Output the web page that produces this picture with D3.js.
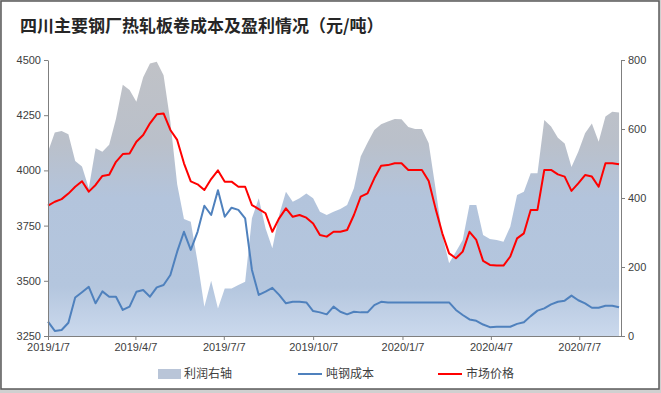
<!DOCTYPE html>
<html><head><meta charset="utf-8">
<script src="https://cdn.jsdelivr.net/npm/d3@7/dist/d3.min.js"></script>
<style>body{margin:0;background:#fff}</style>
</head><body><svg id="c" width="661" height="393"></svg>
<script>
const title = "四川主要钢厂热轧板卷成本及盈利情况（元/吨）";
const seriesNames = ["利润右轴", "吨钢成本", "市场价格"];
const startDate = "2019-01-07";
const weekCount = 85;
const price = [3840,3858,3870,3895,3926,3951,3904,3934,3975,3980,4039,4074,4077,4130,4160,4213,4254,4258,4183,4138,
  4032,3950,3937,3911,3961,4000,3949,3949,3926,3926,3843,3825,3806,3722,3783,3828,3790,3798,3786,3760,
  3707,3700,3722,3722,3730,3798,3881,3896,3964,4021,4024,4032,4032,4002,4002,4002,3952,3828,3715,3624,
  3602,3632,3722,3685,3590,3572,3569,3569,3610,3692,3715,3821,3821,4002,4002,3982,3972,3907,3941,3979,
  3972,3926,4032,4032,4028];
const cost = [3315,3273,3277,3310,3424,3448,3473,3398,3452,3428,3428,3368,3383,3450,3458,3428,3470,3481,3526,3632,
  3722,3640,3722,3840,3798,3910,3790,3831,3821,3783,3549,3436,3451,3468,3436,3398,3405,3405,3402,3363,
  3357,3348,3383,3360,3348,3360,3357,3357,3390,3405,3402,3402,3402,3402,3402,3402,3402,3402,3402,3402,
  3368,3345,3325,3319,3302,3290,3292,3292,3292,3305,3312,3340,3365,3375,3393,3405,3410,3433,3412,3398,
  3378,3378,3387,3387,3380];
const profit = [534,590,594,585,507,491,428,544,534,554,630,728,713,679,750,790,795,756,621,440,
  339,331,215,85,160,80,138,138,148,157,341,399,312,254,351,418,389,399,413,399,
  360,351,360,368,380,428,520,560,597,614,622,629,628,606,600,600,559,428,293,211,
  244,278,380,380,293,281,278,273,317,409,418,472,472,626,607,575,558,490,534,588,
  616,563,636,650,648];
const xTickDates = ["2019-01-07","2019-04-07","2019-07-07","2019-10-07","2020-01-07","2020-04-07","2020-07-07"];
const xDomain = ["2019-01-07","2020-08-19"];
const leftTicks = [3250,3500,3750,4000,4250,4500];
const rightTicks = [0,200,400,600,800];

const parse = d3.utcParse("%Y-%m-%d");
const fmt = d3.utcFormat("%Y/%-m/%-d");
const dates = d3.range(weekCount).map(i => d3.utcDay.offset(parse(startDate), 7 * i));
const rows = dates.map((d, i) => ({d, price: price[i], cost: cost[i], profit: profit[i]}));

const svg = d3.select("#c");
const L = 48, R = 621, T = 60, B = 336;
const x = d3.scaleUtc().domain(xDomain.map(parse)).range([L, R]);
const yL = d3.scaleLinear().domain([3250, 4500]).range([B, T]);
const yR = d3.scaleLinear().domain([0, 800]).range([B, T]);

// frame
svg.append("rect").attr("x", 0).attr("y", 0).attr("width", 661).attr("height", 393).attr("fill", "#d0d0d0");
svg.append("rect").attr("x", 1).attr("y", 1).attr("width", 658).attr("height", 388)
  .attr("fill", "#fff").attr("stroke", "#5a5a5a").attr("stroke-width", 1.5);

// title
svg.append("text").attr("x", 20).attr("y", 32).text(title)
  .attr("font-family", "'Noto Sans CJK SC', sans-serif").attr("font-size", 17).attr("font-weight", "bold").attr("fill", "#262626");

// gradient
const defs = svg.append("defs");
const g = defs.append("linearGradient").attr("id", "pg").attr("gradientUnits", "userSpaceOnUse")
  .attr("x1", 0).attr("x2", 0).attr("y1", T).attr("y2", B);
[[0, "#c0c2c7"], [0.3, "#bac0ca"], [0.5, "#b3c4dc"], [0.82, "#b4c6de"], [1, "#cbd9ed"]]
  .forEach(([o, c]) => g.append("stop").attr("offset", o).attr("stop-color", c));

// area
svg.append("path").datum(rows)
  .attr("d", d3.area().x(d => x(d.d)).y0(yR(0)).y1(d => yR(d.profit)))
  .attr("fill", "url(#pg)");

// lines
svg.append("path").datum(rows)
  .attr("d", d3.line().x(d => x(d.d)).y(d => yL(d.cost)))
  .attr("fill", "none").attr("stroke", "#4f81bd").attr("stroke-width", 2).attr("stroke-linejoin", "round");
svg.append("path").datum(rows)
  .attr("d", d3.line().x(d => x(d.d)).y(d => yL(d.price)))
  .attr("fill", "none").attr("stroke", "#ff0000").attr("stroke-width", 2).attr("stroke-linejoin", "round");

// axes
function styleAxis(sel) {
  sel.selectAll("path.domain").attr("stroke", "#7f7f7f");
  sel.selectAll(".tick line").attr("stroke", "#7f7f7f");
  sel.selectAll("text").attr("font-family", "'Liberation Sans', Arial, sans-serif").attr("font-size", 11).attr("fill", "#404040");
}
svg.append("g").attr("transform", `translate(${L},0)`)
  .call(d3.axisLeft(yL).tickValues(leftTicks).tickFormat(d3.format("d")).tickSize(4).tickSizeOuter(0).tickPadding(3)).call(styleAxis);
svg.append("g").attr("transform", `translate(${R},0)`)
  .call(d3.axisRight(yR).tickValues(rightTicks).tickFormat(d3.format("d")).tickSize(4).tickSizeOuter(0).tickPadding(3)).call(styleAxis);
svg.append("g").attr("transform", `translate(0,${B})`)
  .call(d3.axisBottom(x).tickValues(xTickDates.map(parse)).tickFormat(fmt).tickSize(4).tickSizeOuter(0).tickPadding(3)).call(styleAxis);

// legend
const lg = svg.append("g").attr("font-family", "'Noto Sans CJK SC', sans-serif").attr("font-size", 12).attr("fill", "#404040");
const ly = 374;
lg.append("rect").attr("x", 158).attr("y", ly - 5).attr("width", 23).attr("height", 10).attr("fill", "#b9c5d8");
lg.append("text").attr("x", 184).attr("y", ly + 4).text(seriesNames[0]);
lg.append("line").attr("x1", 298).attr("x2", 322).attr("y1", ly).attr("y2", ly).attr("stroke", "#4f81bd").attr("stroke-width", 2);
lg.append("text").attr("x", 326).attr("y", ly + 4).text(seriesNames[1]);
lg.append("line").attr("x1", 438).attr("x2", 462).attr("y1", ly).attr("y2", ly).attr("stroke", "#ff0000").attr("stroke-width", 2);
lg.append("text").attr("x", 466).attr("y", ly + 4).text(seriesNames[2]);
</script></body></html>
